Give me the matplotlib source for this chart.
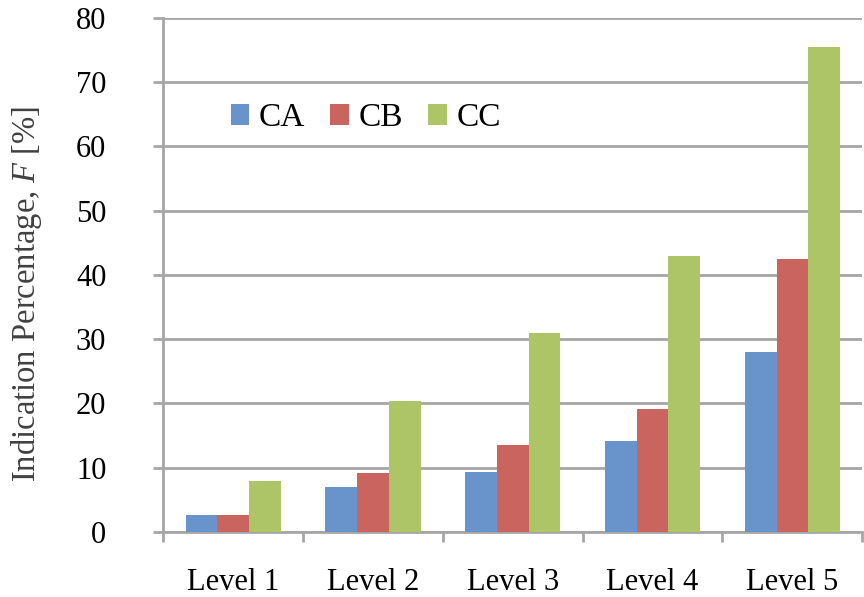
import matplotlib
matplotlib.use("Agg")
import matplotlib.pyplot as plt
import numpy as np

categories = ["Level 1", "Level 2", "Level 3", "Level 4", "Level 5"]
series_names = ["CA", "CB", "CC"]
ca = [2.6, 7.0, 9.4, 14.2, 28.0]
cb = [2.6, 9.1, 13.5, 19.2, 42.5]
cc = [7.9, 20.3, 31.0, 42.9, 75.4]
y_ticks = [0, 10, 20, 30, 40, 50, 60, 70, 80]

colors = ["#6894CB", "#C9645F", "#ADC566"]
grid_color = "#A6A6A6"

plt.rcParams["font.family"] = ["Liberation Serif", "DejaVu Serif"]
plt.rcParams["mathtext.fontset"] = "custom"
plt.rcParams["mathtext.it"] = "Liberation Serif:italic"
plt.rcParams["mathtext.rm"] = "Liberation Serif"

fig = plt.figure(figsize=(8.64, 5.97), dpi=100)
ax = fig.add_axes([0.189, 0.109, 0.809, 0.861])

x = np.arange(len(categories))
w = 0.227
for i, (vals, name) in enumerate(zip([ca, cb, cc], series_names)):
    ax.bar(x + (i - 1) * w, vals, width=w, color=colors[i], label=name, zorder=3,
           linewidth=0)

ax.set_xlim(-0.5, len(categories) - 0.5)
ax.set_ylim(0, 80)
ax.set_yticks(y_ticks)
ax.set_yticklabels([str(t) for t in y_ticks], fontsize=22)
ax.yaxis.grid(True, color=grid_color, linewidth=2.0, zorder=0)
ax.set_axisbelow(True)

ax.set_xticks(x)
ax.set_xticklabels(categories, fontsize=22)
ax.set_xticks(np.arange(-0.5, len(categories) - 0.4, 1.0), minor=True)
ax.tick_params(axis="x", which="major", length=0, pad=26)
ax.tick_params(axis="x", which="minor", length=7, width=2.0, color=grid_color, direction="out")
ax.tick_params(axis="y", which="major", length=7, width=2.0, color=grid_color, direction="out", pad=34)

for s in ["top", "right"]:
    ax.spines[s].set_visible(False)
ax.spines["left"].set_color(grid_color)
ax.spines["left"].set_linewidth(2.0)
ax.spines["bottom"].set_color(grid_color)
ax.spines["bottom"].set_linewidth(2.0)

ax.set_ylabel(r"Indication Percentage, $F$ [%]", fontsize=23.5, color="#404040")
ax.yaxis.set_label_coords(-0.171, 0.463)

leg = ax.legend(loc="center left", bbox_to_anchor=(214 / 864, 1 - 118 / 597),
                bbox_transform=fig.transFigure, ncol=3, frameon=False, fontsize=24,
                handlelength=0.55, handleheight=0.55, handletextpad=0.3,
                columnspacing=0.75, borderpad=0)

fig.savefig("out.png", dpi=100)
